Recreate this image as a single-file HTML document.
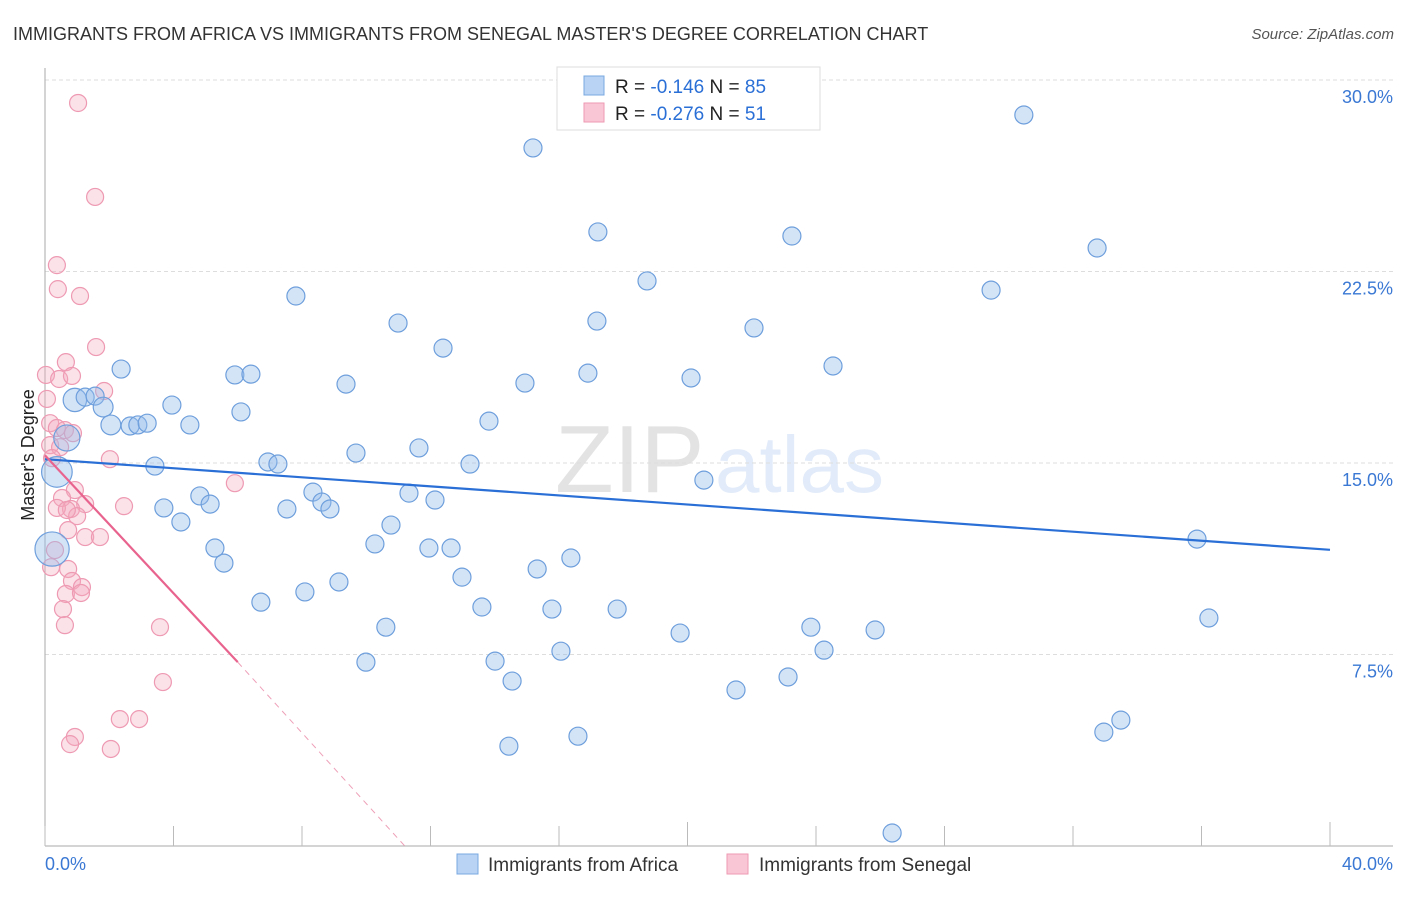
<!DOCTYPE html>
<html><head><meta charset="utf-8"><style>
body{margin:0;background:#fff;font-family:"Liberation Sans",sans-serif;}
svg text{font-family:"Liberation Sans",sans-serif;}
</style></head><body>
<svg id="chart" width="1406" height="892" xmlns="http://www.w3.org/2000/svg">
<text x="13" y="40" font-size="18" fill="#333">IMMIGRANTS FROM AFRICA VS IMMIGRANTS FROM SENEGAL MASTER'S DEGREE CORRELATION CHART</text>
<text x="1394" y="39" font-size="15" fill="#555" text-anchor="end" font-style="italic">Source: ZipAtlas.com</text>
<g opacity="0.13">
<text x="555" y="492" font-size="96" font-family="Liberation Serif,serif" fill="#333">ZIP</text>
<text x="715" y="492" font-size="80" fill="#2a6fd6">atlas</text>
</g>
<g id="grid"></g>
<g id="axes"></g>
<g id="pts"></g>
<g id="trends"></g>
<g>
<rect x="557" y="67" width="263" height="63" fill="#fff" stroke="#ddd"/>
<rect x="584" y="76" width="20" height="19" fill="#b9d3f5" stroke="#7aa8e0"/>
<rect x="584" y="103" width="20" height="19" fill="#f9c6d5" stroke="#ee9ab3"/>
<text x="615" y="93" font-size="19" fill="#222">R = <tspan fill="#2a6fd6">-0.146</tspan>   N = <tspan fill="#2a6fd6">85</tspan></text>
<text x="615" y="120" font-size="19" fill="#222">R = <tspan fill="#2a6fd6">-0.276</tspan>   N =  <tspan fill="#2a6fd6">51</tspan></text>
</g>
<g>
<rect x="457" y="854" width="21" height="20" fill="#b9d3f5" stroke="#7aa8e0"/>
<text x="488" y="871" font-size="19" fill="#333">Immigrants from Africa</text>
<rect x="727" y="854" width="21" height="20" fill="#f9c6d5" stroke="#ee9ab3"/>
<text x="759" y="871" font-size="19" fill="#333">Immigrants from Senegal</text>
</g>
<text transform="translate(34,455) rotate(-90)" font-size="18" fill="#222" text-anchor="middle">Master's Degree</text>
</svg>
<script>
const yTicks=[30,22.5,15,7.5];
const yTickLabels=["30.0%","22.5%","15.0%","7.5%"];
const xTicks=[0,4,8,12,16,20,24,28,32,36,40];
const xEndLabels=["0.0%","40.0%"];
const africaX=[15.19,30.47,17.21,23.25,32.75,18.74,29.45,7.81,10.99,17.18,22.07,12.39,24.53,2.37,5.91,6.41,16.90,20.11,9.37,14.94,0.93,1.25,1.56,1.81,3.95,6.10,13.82,2.05,2.65,2.89,3.18,4.51,11.64,9.68,6.94,7.25,13.23,3.42,0.37,20.51,8.34,11.33,12.14,4.82,5.14,8.62,8.87,3.70,7.53,4.23,10.77,10.27,11.95,12.64,5.29,5.57,0.22,16.37,15.32,12.98,9.15,8.09,6.72,13.60,15.78,17.81,35.86,36.23,10.61,19.77,23.84,25.84,24.25,16.06,9.99,14.01,14.54,21.51,23.13,33.49,32.96,16.59,14.44,26.37,0.68];
const africaY=[27.34,28.63,24.05,23.89,23.42,22.13,21.77,21.54,20.48,20.56,20.29,19.50,18.80,18.68,18.45,18.48,18.52,18.33,18.09,18.13,17.47,17.58,17.62,17.19,17.27,17.00,16.64,16.49,16.45,16.49,16.56,16.49,15.59,15.39,15.04,14.96,14.96,14.88,14.65,14.33,13.86,13.82,13.55,13.71,13.39,13.47,13.20,13.24,13.20,12.69,12.57,11.83,11.67,11.67,11.67,11.08,11.63,11.28,10.85,10.53,10.34,9.95,9.55,9.36,9.28,9.28,12.02,8.93,8.57,8.34,8.57,8.46,7.67,7.63,7.20,7.24,6.46,6.11,6.62,4.93,4.46,4.30,3.91,0.51,15.98];
const africaSize=[1,1,1,1,1,1,1,1,1,1,1,1,1,1,1,1,1,1,1,1,1.3,1,1,1.1,1,1,1,1.1,1,1,1,1,1,1,1,1,1,1,1.7,1,1,1,1,1,1,1,1,1,1,1,1,1,1,1,1,1,1.9,1,1,1,1,1,1,1,1,1,1,1,1,1,1,1,1,1,1,1,1,1,1,1,1,1,1,1,1.45];
const senegalX=[1.03,1.56,0.37,0.40,1.09,1.59,0.65,0.03,0.44,0.84,1.84,0.06,0.16,0.37,0.62,0.87,0.16,0.47,0.22,2.02,5.91,0.93,0.53,1.25,0.81,0.37,1.00,0.68,2.46,0.72,1.25,1.71,0.19,0.72,0.84,1.15,0.65,1.12,0.56,0.62,3.58,3.67,2.33,2.93,0.93,0.78,2.05,0.31];
const senegalY=[29.10,25.42,22.75,21.81,21.54,19.54,18.95,18.45,18.29,18.41,17.82,17.51,16.56,16.37,16.29,16.17,15.70,15.62,15.19,15.15,14.21,13.94,13.63,13.39,13.20,13.24,12.92,13.16,13.31,12.37,12.10,12.10,10.92,10.85,10.38,10.14,9.87,9.91,9.28,8.65,8.57,6.42,4.97,4.97,4.27,3.99,3.80,11.59];
const africaTrend=[[0,15.15],[40,11.6]];
const senegalTrend=[[0,15.3],[6.0,7.2],[11.2,0]];

const X=v=>45+v*32.125, Y=v=>846-v*25.533;
const NS="http://www.w3.org/2000/svg";
function mk(t,a,p){const e=document.createElementNS(NS,t);for(const k in a)e.setAttribute(k,a[k]);p.appendChild(e);return e;}
const grid=document.getElementById('grid'),axes=document.getElementById('axes'),pts=document.getElementById('pts'),tr=document.getElementById('trends');
yTicks.forEach((v,i)=>{
 const l=mk('line',{x1:45,x2:1393,y1:Y(v),y2:Y(v),stroke:'#ddd','stroke-dasharray':'4,3'},grid);
 
 
 const t=mk('text',{x:1393,y:Y(v)+23,'font-size':18,fill:'#3a78d4','text-anchor':'end'},axes);
 t.textContent=yTickLabels[i];
 
 
});
const ya=mk('line',{x1:45,x2:45,y1:68,y2:846,stroke:'#aaa'},axes);


const xa=mk('line',{x1:45,x2:1393,y1:846,y2:846,stroke:'#aaa'},axes);


xTicks.forEach(v=>{
 const l=mk('line',{x1:X(v),x2:X(v),y1:(v%20===0&&v>0)?822:826,y2:846,stroke:'#bbb'},axes);
 
 
});
const xl0=mk('text',{x:45,y:870,'font-size':18,fill:'#3a78d4'},axes);xl0.textContent=xEndLabels[0];


const xl1=mk('text',{x:1393,y:870,'font-size':18,fill:'#3a78d4','text-anchor':'end'},axes);xl1.textContent=xEndLabels[1];


senegalX.forEach((v,i)=>{
 const c=mk('circle',{cx:X(v),cy:Y(senegalY[i]),r:8.5,fill:'rgba(244,168,190,0.35)',stroke:'#ee9ab3','stroke-width':1.2},pts);
 
 
});
africaX.forEach((v,i)=>{
 const c=mk('circle',{cx:X(v),cy:Y(africaY[i]),r:9*africaSize[i],fill:'rgba(147,187,236,0.4)',stroke:'#6e9fdc','stroke-width':1.2},pts);
 
 
});
const bl=mk('line',{x1:X(africaTrend[0][0]),y1:Y(africaTrend[0][1]),x2:X(africaTrend[1][0]),y2:Y(africaTrend[1][1]),stroke:'#2a6fd6','stroke-width':2.2},tr);


const pl=mk('line',{x1:X(senegalTrend[0][0]),y1:Y(senegalTrend[0][1]),x2:X(senegalTrend[1][0]),y2:Y(senegalTrend[1][1]),stroke:'#e8648f','stroke-width':2.2},tr);


const pd=mk('line',{x1:X(senegalTrend[1][0]),y1:Y(senegalTrend[1][1]),x2:X(senegalTrend[2][0]),y2:Y(senegalTrend[2][1]),stroke:'#eea0b8','stroke-width':1,'stroke-dasharray':'6,5'},tr);


</script>
</body></html>
